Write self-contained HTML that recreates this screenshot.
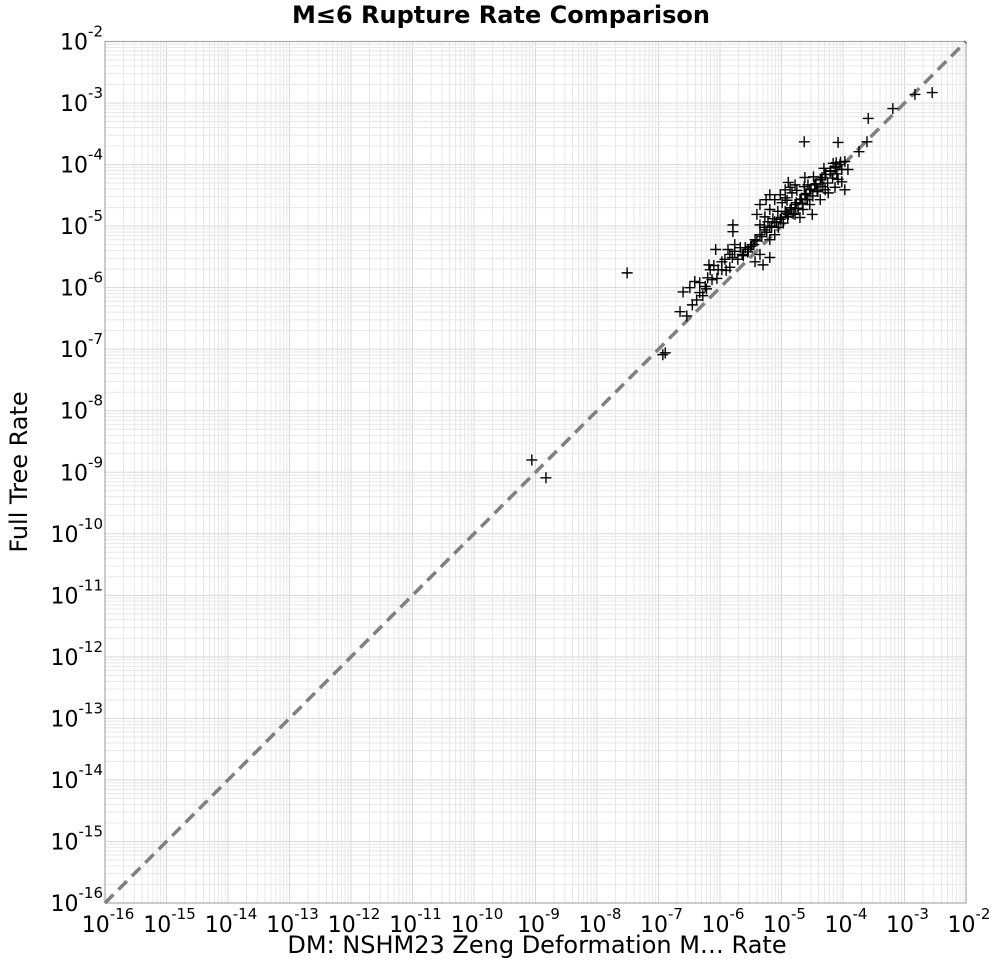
<!DOCTYPE html>
<html><head><meta charset="utf-8"><style>
html,body{margin:0;padding:0;background:#fff;}
svg{display:block;font-family:"DejaVu Sans","Liberation Sans",sans-serif;}
</style></head><body>
<svg id="chart" width="1000" height="965" viewBox="0 0 1000 965" xmlns="http://www.w3.org/2000/svg">
<text x="501" y="23" text-anchor="middle" font-size="24" font-weight="bold">M≤6 Rupture Rate Comparison</text>
<g id="grid"></g>
<rect x="105" y="41.5" width="861" height="861.5" fill="none" stroke="#aaa" stroke-width="1.2"/>
<g id="xticks"></g>
<g id="yticks"></g>
<g id="marks"></g>
<text x="537" y="953" text-anchor="middle" font-size="24">DM: NSHM23 Zeng Deformation M… Rate</text>
<text x="27" y="472" text-anchor="middle" font-size="24" transform="rotate(-90 27 472)">Full Tree Rate</text>
</svg>
<script>
const xExp = [-16,-15,-14,-13,-12,-11,-10,-9,-8,-7,-6,-5,-4,-3,-2];
const yExp = [-16,-15,-14,-13,-12,-11,-10,-9,-8,-7,-6,-5,-4,-3,-2];
const ptsX = [-6.65,-6.54,-6.60,-6.49,-6.41,-6.33,-6.20,-6.16,-6.10,-6.18,-6.33,-6.24,-6.13,-6.03,-5.97,-5.84,-5.76,-5.67,-5.59,-5.80,-5.71,-5.54,-5.48,-5.87,-5.76,-5.64,-5.35,-5.30,-5.19,-5.43,-5.35,-5.27,-5.19,-5.11,-5.02,-4.94,-4.86,-4.78,-4.70,-4.62,-4.54,-4.46,-4.37,-4.29,-4.21,-4.13,-4.05,-3.97,-5.06,-4.89,-4.78,-4.65,-4.54,-4.37,-4.24,-4.13,-4.02,-4.70,-4.50,-5.19,-5.11,-5.35,-5.27,-5.19,-5.11,-5.02,-4.94,-4.86,-4.78,-4.89,-5.19,-5.79,-5.79,-5.40,-4.57,-4.34,-4.08,-3.92,-3.97,-4.41,-4.11,-4.02,-4.62,-4.29,-5.43,-6.07,-5.97,-5.92,-5.84,-4.94,-4.83,-5.35,-5.25,
 -5.62,-5.55,-5.50,-5.45,-5.40,-5.32,-5.24,-5.16,-5.08,-5.00,-4.92,-4.84,-4.76,-4.68,-4.60,-4.52,-4.44,-4.36,-4.28,-4.20,-4.12,-4.04,-5.05,-4.97,-4.90,-4.81,-4.73,-4.66,-4.58,-4.49,-4.42,-4.33,-4.25,-4.17,-4.10,-5.28,-5.22,-5.14,-4.99,-4.91,-4.75,-4.63,-4.48,-4.31,-4.16,-6.45,-6.38,-6.28,-6.22,-6.05,-5.90,
 -7.51,-9.06,-8.83,-6.93,-6.89,-2.55,-2.83,-3.19,-3.59,-4.63,-4.08,-3.61,-3.74];
const ptsY = [-6.39,-6.46,-6.07,-6.00,-5.90,-5.92,-5.84,-5.71,-5.64,-5.63,-6.08,-5.98,-5.87,-5.71,-5.58,-5.46,-5.41,-5.35,-5.35,-5.51,-5.54,-5.38,-5.30,-5.38,-5.30,-5.46,-5.46,-5.63,-5.51,-5.22,-5.14,-5.06,-5.02,-4.93,-4.89,-4.76,-4.73,-4.65,-4.57,-4.49,-4.41,-4.33,-4.24,-4.16,-4.11,-4.05,-4.00,-3.95,-4.76,-4.81,-4.81,-4.73,-4.65,-4.57,-4.46,-4.37,-4.28,-4.86,-4.81,-5.22,-5.14,-4.98,-4.85,-4.73,-4.57,-4.49,-4.41,-4.37,-4.33,-4.29,-4.49,-4.98,-5.09,-4.81,-4.33,-4.21,-4.24,-4.08,-4.41,-4.44,-3.97,-4.08,-4.21,-4.41,-5.58,-5.38,-5.71,-5.54,-5.67,-4.54,-4.46,-4.65,-4.57,
 -5.48,-5.42,-5.33,-5.30,-5.24,-5.17,-5.10,-5.00,-4.94,-4.86,-4.79,-4.70,-4.62,-4.56,-4.47,-4.40,-4.31,-4.25,-4.16,-4.10,-4.03,-3.96,-5.02,-4.95,-4.85,-4.80,-4.71,-4.63,-4.57,-4.51,-4.43,-4.36,-4.30,-4.22,-4.15,-5.02,-4.93,-4.88,-4.62,-4.58,-4.42,-4.36,-4.20,-4.06,-3.98,-6.28,-6.20,-6.13,-6.02,-5.85,-5.72,
 -5.76,-8.80,-9.09,-7.09,-7.06,-2.83,-2.86,-3.09,-3.25,-3.63,-3.64,-3.63,-3.79];

const NS='http://www.w3.org/2000/svg';
const L=105,R=966,T=41.5,B=903,lo=-16,hi=-2;
function sx(v){return L+(v-lo)/(hi-lo)*(R-L);}
function sy(v){return B-(v-lo)/(hi-lo)*(B-T);}
function mk(tag,attrs,parent){const e=document.createElementNS(NS,tag);for(const k in attrs)e.setAttribute(k,attrs[k]);parent.appendChild(e);return e;}

const grid=document.getElementById('grid');
for(let d=lo;d<hi;d++){
  for(let m=1;m<10;m++){
    const v=d+Math.log10(m);
    const gx=mk('line',{x1:sx(v),x2:sx(v),y1:T,y2:B,stroke:m===1?'#d8d8d8':'#e8e8e8','stroke-width':1},grid);
    
    
    const gy=mk('line',{x1:L,x2:R,y1:sy(v),y2:sy(v),stroke:m===1?'#d8d8d8':'#e8e8e8','stroke-width':1},grid);
    
    
  }
}

const xt=document.getElementById('xticks');
xExp.forEach(e=>{
  const t=mk('text',{x:sx(e)+3,y:932,'text-anchor':'middle','font-size':22},xt);
  
  
  t.innerHTML='10<tspan font-size="15" dy="-13">'+e+'</tspan>';
});
const yt=document.getElementById('yticks');
yExp.forEach(e=>{
  const t=mk('text',{x:103,y:sy(e)+8,'text-anchor':'end','font-size':22},yt);
  
  
  t.innerHTML='10<tspan font-size="15" dy="-13">'+e+'</tspan>';
});

const marks=document.getElementById('marks');
const diag=mk('line',{x1:sx(lo),y1:sy(lo),x2:sx(hi),y2:sy(hi),stroke:'#808080','stroke-width':3.5,'stroke-dasharray':'12 7'},marks);


for(let i=0;i<ptsX.length;i++){
  const cx=sx(ptsX[i]),cy=sy(ptsY[i]);
  const p=mk('path',{d:`M${cx-5.5},${cy}H${cx+5.5}M${cx},${cy-5.5}V${cy+5.5}`,stroke:'#000','stroke-width':1.4,fill:'none'},marks);
  
  
}
</script>
</body></html>
